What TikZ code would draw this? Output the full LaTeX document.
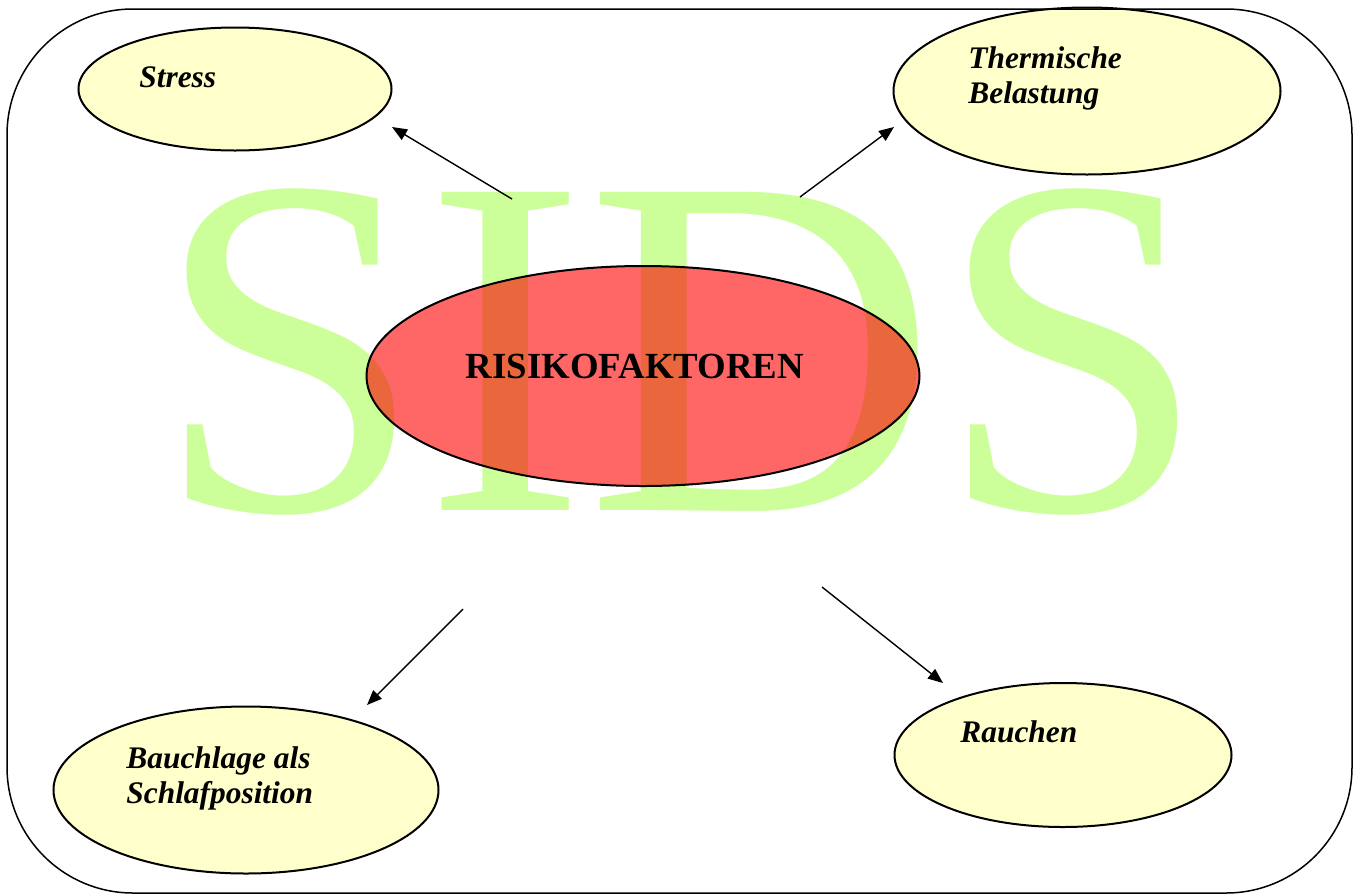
\documentclass[tikz,border=0pt]{standalone}
\usepackage{fontspec}
\setmainfont{Liberation Serif}
\usetikzlibrary{arrows.meta,shapes.geometric}

\definecolor{sidsgreen}{HTML}{CCFF99}
\definecolor{noteyellow}{HTML}{FFFFCC}

\begin{document}
\begin{tikzpicture}[x=0.5pt,y=-0.5pt,>={Triangle[length=7.5pt,width=6pt]},
  factor node/.style={ellipse,draw,line width=1pt,fill=noteyellow,inner sep=0pt},
  factor text/.style={font=\fontsize{15.7}{17.5}\selectfont\bfseries\itshape,anchor=base west,align=left,inner sep=0pt},
  link/.style={->,line width=0.7pt}]

  \useasboundingbox (0,0) rectangle (1360,895);

  % background lettering
  \node[text=sidsgreen,font=\fontsize{243}{243}\selectfont,anchor=base,inner sep=0pt] (sids) at (681,510) {SIDS};

  \node[factor node,minimum width=156.5pt,minimum height=61.5pt] (stress) at (235,89) {};
  \node[factor node,minimum width=193.5pt,minimum height=83.5pt] (therm) at (1087,91) {};
  \node[factor node,minimum width=192.5pt,minimum height=83.5pt] (bauch) at (246,790) {};
  \node[factor node,minimum width=168.5pt,minimum height=72pt] (rauch) at (1063,755) {};

  % base of a two-line text is its last line
  \node[factor text] (stresstext) at (139,87) {Stress};
  \node[factor text] (thermtext) at (968,103) {Thermische\\Belastung};
  \node[factor text] (bauchtext) at (126,803) {Bauchlage als\\Schlafposition};
  \node[factor text] (rauchtext) at (960,742) {Rauchen};

  \node[ellipse,draw,line width=1pt,fill=red,fill opacity=0.6,text opacity=1,
    minimum width=276.5pt,minimum height=110pt] (risk) at (643,376) {};
  \node[font=\fontsize{18.4}{20}\selectfont\bfseries,anchor=base,inner sep=0pt] (risktext) at (635,378) {RISIKOFAKTOREN};

  \coordinate (a1) at (512,199); \coordinate (b1) at (392,127);
  \coordinate (a2) at (800,197); \coordinate (b2) at (894,127);
  \coordinate (a3) at (463,609); \coordinate (b3) at (367,705);
  \coordinate (a4) at (822,587); \coordinate (b4) at (943,683);
  \draw[link] (a1) -- (b1);
  \draw[link] (a2) -- (b2);
  \draw[link] (a3) -- (b3);
  \draw[link] (a4) -- (b4);

  \draw[line width=0.75pt,rounded corners=63pt] (7,9) rectangle (1352,893);
\end{tikzpicture}
\end{document}
